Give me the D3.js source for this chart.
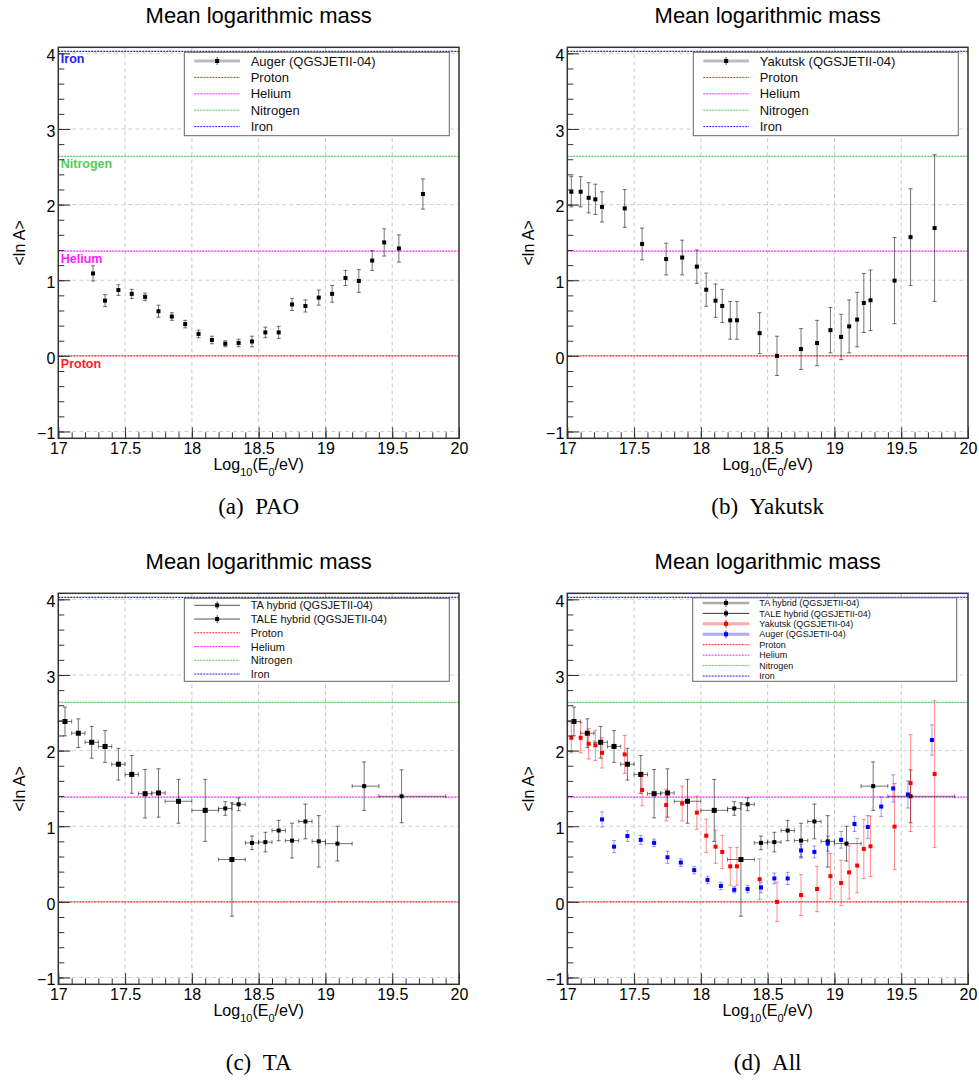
<!DOCTYPE html>
<html>
<head>
<meta charset="utf-8">
<script src="https://cdn.jsdelivr.net/npm/d3@7"></script>
<style>
  body { margin: 0; background: #fff; }
  svg { display: block; font-family: "Liberation Sans", Arial, sans-serif; }
</style>
</head>
<body>
<svg id="fig" width="979" height="1081"></svg>
<script>
// ---- axes ----
const xDomain = [17, 20];
const yDomain = [-1.09, 4.08];
const xMajor = [17, 17.5, 18, 18.5, 19, 19.5, 20];
const yMajor = [-1, 0, 1, 2, 3, 4];

// ---- reference compositions (ln A) ----
const refNames = ["Proton", "Helium", "Nitrogen", "Iron"];
const refValues = [0, 1.386, 2.639, 4.025];
const refColors = ["#ff2020", "#ff20ff", "#55cc55", "#2020ff"];

// ---- Auger (QGSJETII-04) ----
const augerX = [17.26, 17.35, 17.45, 17.55, 17.65, 17.75, 17.85, 17.95, 18.05, 18.15, 18.25, 18.35, 18.45,
                18.55, 18.65, 18.75, 18.85, 18.95, 19.05, 19.15, 19.25, 19.35, 19.44, 19.55, 19.73];
const augerY = [1.09, 0.73, 0.87, 0.82, 0.78, 0.59, 0.52, 0.42, 0.29, 0.21, 0.16, 0.17, 0.19,
                0.31, 0.31, 0.68, 0.66, 0.77, 0.82, 1.03, 0.99, 1.26, 1.50, 1.42, 2.14];
const augerErr = [0.10, 0.08, 0.07, 0.06, 0.05, 0.08, 0.05, 0.05, 0.05, 0.05, 0.04, 0.05, 0.07,
                  0.07, 0.08, 0.08, 0.08, 0.10, 0.11, 0.10, 0.15, 0.13, 0.18, 0.18, 0.20];

// ---- Yakutsk (QGSJETII-04) ----
const yakX = [17.03, 17.10, 17.16, 17.21, 17.26, 17.43, 17.56, 17.74, 17.86, 17.97, 18.04, 18.11, 18.16, 18.22,
              18.27, 18.44, 18.57, 18.75, 18.87, 18.97, 19.05, 19.11, 19.17, 19.22, 19.27, 19.45, 19.57, 19.75];
const yakY = [2.17, 2.17, 2.09, 2.07, 1.97, 1.95, 1.48, 1.28, 1.30, 1.18, 0.875, 0.73, 0.66, 0.47,
              0.47, 0.30, 0.0, 0.09, 0.17, 0.34, 0.25, 0.39, 0.48, 0.70, 0.735, 0.995, 1.57, 1.69];
const yakErr = [0.20, 0.20, 0.20, 0.20, 0.20, 0.25, 0.21, 0.21, 0.23, 0.22, 0.22, 0.22, 0.22, 0.25,
                0.25, 0.27, 0.26, 0.27, 0.30, 0.30, 0.30, 0.35, 0.36, 0.39, 0.40, 0.57, 0.64, 0.97];

// ---- TA hybrid (QGSJETII-04) ----
const taX = [18.25, 18.35, 18.45, 18.55, 18.65, 18.75, 18.85, 18.95, 19.09, 19.29, 19.57];
const taY = [1.235, 1.29, 0.78, 0.79, 0.943, 0.81, 1.063, 0.80, 0.77, 1.53, 1.396];
const taErr = [0.09, 0.085, 0.09, 0.13, 0.135, 0.23, 0.23, 0.34, 0.23, 0.32, 0.35];
const taBinLo = [18.2, 18.3, 18.4, 18.5, 18.6, 18.7, 18.8, 18.9, 19.0, 19.2, 19.4];
const taBinHi = [18.3, 18.4, 18.5, 18.6, 18.7, 18.8, 18.9, 19.0, 19.2, 19.4, 19.9];

// ---- TALE hybrid (QGSJETII-04) ----
const taleX = [17.05, 17.15, 17.25, 17.35, 17.45, 17.55, 17.65, 17.75, 17.9, 18.1, 18.3];
const taleY = [2.385, 2.23, 2.11, 2.055, 1.82, 1.685, 1.43, 1.44, 1.33, 1.21, 0.56];
const taleErr = [0.19, 0.19, 0.21, 0.21, 0.21, 0.25, 0.32, 0.32, 0.29, 0.41, 0.75];
const taleBinLo = [17.0, 17.1, 17.2, 17.3, 17.4, 17.5, 17.6, 17.7, 17.8, 18.0, 18.2];
const taleBinHi = [17.1, 17.2, 17.3, 17.4, 17.5, 17.6, 17.7, 17.8, 18.0, 18.2, 18.4];

const W = 400.7, H = 391;
const svg = d3.select("#fig");

function rows(x, y, ey, lo, hi) {
    return x.map((d, i) => ({x: d, y: y[i], ey: ey[i], lo: lo ? lo[i] : null, hi: hi ? hi[i] : null}));
}

const sAuger = {label: "Auger (QGSJETII-04)", data: rows(augerX, augerY, augerErr), size: 4};
const sYak = {label: "Yakutsk (QGSJETII-04)", data: rows(yakX, yakY, yakErr), size: 4};
const sTA = {label: "TA hybrid (QGSJETII-04)", data: rows(taX, taY, taErr, taBinLo, taBinHi), size: 4};
const sTALE = {label: "TALE hybrid (QGSJETII-04)", data: rows(taleX, taleY, taleErr, taleBinLo, taleBinHi), size: 5};

const black = {color: "#000", err: "#000", errOp: 0.55};
const red = {color: "#ff0000", err: "#ff0000", errOp: 0.45};
const blue = {color: "#0000ff", err: "#0000ff", errOp: 0.4};

const panels = [
    {left: 58.3, top: 47.3, caption: "(a)\u2002PAO", capY: 514, labels: true,
     series: [[sAuger, black]],
     legend: {box: [126, 5, 391, 88.4], row0: 13.7, step: 16.4, font: 13, line: [136, 181.7], tx: 192.4,
              entries: [[sAuger, "#bcbcbc", 3]]}},
    {left: 567.3, top: 47.3, caption: "(b)\u2002Yakutsk", capY: 514, labels: false,
     series: [[sYak, black]],
     legend: {box: [126, 5, 391, 88.4], row0: 13.7, step: 16.4, font: 13, line: [136, 181.7], tx: 192.4,
              entries: [[sYak, "#bcbcbc", 3]]}},
    {left: 58.3, top: 593.3, caption: "(c)\u2002TA", capY: 1070, labels: false,
     series: [[sTA, black], [sTALE, black]],
     legend: {box: [126, 5, 391, 88], row0: 12, step: 13.75, font: 11, line: [136, 181.7], tx: 192.4,
              entries: [[sTA, "#555", 1], [sTALE, "#555", 1]]}},
    {left: 567.3, top: 593.3, caption: "(d)\u2002All", capY: 1070, labels: false,
     series: [[sTA, black], [sTALE, black], [sYak, red], [sAuger, blue]],
     legend: {box: [125.4, 4.5, 389.4, 88], row0: 9.6, step: 10.45, font: 9, line: [135.4, 182], tx: 192,
              entries: [[sTA, "#aaaaaa", 2.5], [sTALE, "#333", 1], [sYak, "#ffaaaa", 3], [sAuger, "#aaaaff", 3]]}}
];

const markerColors = new Map();

function drawSeries(g, x, y, s, st) {
    const sg = g.append("g");
    const e = sg.append("g").attr("stroke", st.err).attr("stroke-opacity", st.errOp).attr("stroke-width", 1);
    s.data.forEach(d => {
        e.append("line").attr("x1", x(d.x)).attr("x2", x(d.x)).attr("y1", y(d.y - d.ey)).attr("y2", y(d.y + d.ey));
        [d.y - d.ey, d.y + d.ey].forEach(v => {
            e.append("line").attr("x1", x(d.x) - 2).attr("x2", x(d.x) + 2).attr("y1", y(v)).attr("y2", y(v));
        });
        if (d.lo !== null) {
            e.append("line").attr("x1", x(d.lo)).attr("x2", x(d.hi)).attr("y1", y(d.y)).attr("y2", y(d.y));
            [d.lo, d.hi].forEach(v => {
                e.append("line").attr("x1", x(v)).attr("x2", x(v)).attr("y1", y(d.y) - 2).attr("y2", y(d.y) + 2);
            });
        }
    });
    sg.selectAll("rect.m").data(s.data).join("rect")
        .attr("class", "m")
        .attr("x", d => x(d.x) - s.size / 2)
        .attr("y", d => y(d.y) - s.size / 2)
        .attr("width", s.size).attr("height", s.size)
        .attr("fill", st.color);
    markerColors.set(s, st.color);
}

function drawPanel(p) {
    const g = svg.append("g").attr("transform", `translate(${p.left},${p.top})`);
    const x = d3.scaleLinear().domain(xDomain).range([0, W]);
    const y = d3.scaleLinear().domain(yDomain).range([H, 0]);

    // grid
    g.selectAll("line.gx").data(xMajor.slice(1, -1)).join("line")
        .attr("class", "gx")
        .attr("x1", d => x(d)).attr("x2", d => x(d)).attr("y1", 0).attr("y2", H)
        .attr("stroke", "#c8c8c8").attr("stroke-dasharray", "4,3");
    g.selectAll("line.gy").data(yMajor).join("line")
        .attr("class", "gy")
        .attr("x1", 0).attr("x2", W).attr("y1", d => y(d)).attr("y2", d => y(d))
        .attr("stroke", "#d0d0d0").attr("stroke-dasharray", "4,3");

    // reference lines
    g.selectAll("line.ref").data(refValues).join("line")
        .attr("class", "ref")
        .attr("x1", 0).attr("x2", W).attr("y1", d => y(d)).attr("y2", d => y(d))
        .attr("stroke", (d, i) => refColors[i]).attr("stroke-width", 1.3)
        .attr("stroke-dasharray", "2,1");

    if (p.labels) {
        g.selectAll("text.reflab").data(refNames).join("text")
            .attr("class", "reflab")
            .attr("x", 2.5).attr("y", (d, i) => y(refValues[i]) + 7.5)
            .attr("dy", "0.35em")
            .attr("fill", (d, i) => refColors[i])
            .style("font-size", "12.5px").style("font-weight", "bold")
            .text(d => d);
    }

    p.series.forEach(([s, st]) => drawSeries(g, x, y, s, st));

    // legend
    const L = p.legend;
    const lg = g.append("g");
    lg.append("rect")
        .attr("x", L.box[0]).attr("y", L.box[1])
        .attr("width", L.box[2] - L.box[0]).attr("height", L.box[3] - L.box[1])
        .attr("fill", "#fff").attr("stroke", "#666").attr("stroke-width", 1);
    const entries = L.entries.map(e => ({label: e[0].label, kind: "data", s: e[0], lc: e[1], lw: e[2]}))
        .concat(refNames.map((n, i) => ({label: n, kind: "ref", color: refColors[i]})));
    const mid = (L.line[0] + L.line[1]) / 2;
    entries.forEach((en, i) => {
        const yy = L.row0 + i * L.step;
        if (en.kind === "data") {
            lg.append("line").attr("x1", L.line[0]).attr("x2", L.line[1]).attr("y1", yy).attr("y2", yy)
                .attr("stroke", en.lc).attr("stroke-width", en.lw);
            lg.append("line").attr("x1", mid).attr("x2", mid).attr("y1", yy - 4).attr("y2", yy + 4)
                .attr("stroke", "#555").attr("stroke-width", 1);
            const c = markerColors.get(en.s);
            lg.append("rect").attr("x", mid - 2).attr("y", yy - 2).attr("width", 4).attr("height", 4)
                .attr("fill", c);
        } else {
            lg.append("line").attr("x1", L.line[0]).attr("x2", L.line[1]).attr("y1", yy).attr("y2", yy)
                .attr("stroke", en.color).attr("stroke-dasharray", "2,1");
        }
        lg.append("text").attr("x", L.tx).attr("y", yy).attr("dy", "0.36em")
            .style("font-size", L.font + "px").attr("fill", "#111")
            .text(en.label);
    });

    // axes (ticks inside the frame)
    const xMinor = d3.range(170, 201).map(i => i / 10);
    const yMinor = d3.range(-5, 21).map(i => i / 5);
    const axStyle = sel => {
        sel.select(".domain").remove();
        sel.selectAll(".tick line").attr("stroke", "#333");
        sel.selectAll("text").style("font-size", "16px").style("font-family", "'Liberation Sans', Arial, sans-serif").attr("fill", "#000");
    };
    g.append("g").attr("transform", `translate(0,${H})`)
        .call(d3.axisBottom(x).tickValues(xMinor).tickSize(-6).tickFormat("")).call(axStyle);
    g.append("g").attr("transform", `translate(0,${H})`)
        .call(d3.axisBottom(x).tickValues(xMajor).tickSize(-11).tickPadding(4).tickFormat(d3.format("")))
        .call(axStyle);
    g.append("g")
        .call(d3.axisLeft(y).tickValues(yMinor).tickSize(-6).tickFormat("")).call(axStyle);
    g.append("g")
        .call(d3.axisLeft(y).tickValues(yMajor).tickSize(-12).tickPadding(3).tickFormat(d3.format("")))
        .call(axStyle)
        .selectAll("text").attr("dy", "0.45em");

    // frame
    g.append("rect").attr("width", W).attr("height", H)
        .attr("fill", "none").attr("stroke", "#333").attr("stroke-width", 1.5);

    // titles
    g.append("text").attr("x", W / 2).attr("y", -24.6).attr("text-anchor", "middle")
        .style("font-size", "22px").text("Mean logarithmic mass");

    const xt = g.append("text").attr("x", W / 2).attr("y", H + 32).attr("text-anchor", "middle")
        .style("font-size", "16px");
    xt.append("tspan").text("Log");
    xt.append("tspan").attr("dy", 6).style("font-size", "11px").text("10");
    xt.append("tspan").attr("dy", -6).text("(E");
    xt.append("tspan").attr("dy", 6).style("font-size", "11px").text("0");
    xt.append("tspan").attr("dy", -6).text("/eV)");

    g.append("text").attr("transform", `translate(-33,${H / 2}) rotate(-90)`)
        .attr("text-anchor", "middle").style("font-size", "16px").text("<ln A>");

    svg.append("text").attr("x", p.left + W / 2).attr("y", p.capY).attr("text-anchor", "middle")
        .style("font-family", "'Liberation Serif', 'DejaVu Serif', serif").style("font-size", "23px")
        .text(p.caption);
}

panels.forEach(drawPanel);
</script>
</body>
</html>
